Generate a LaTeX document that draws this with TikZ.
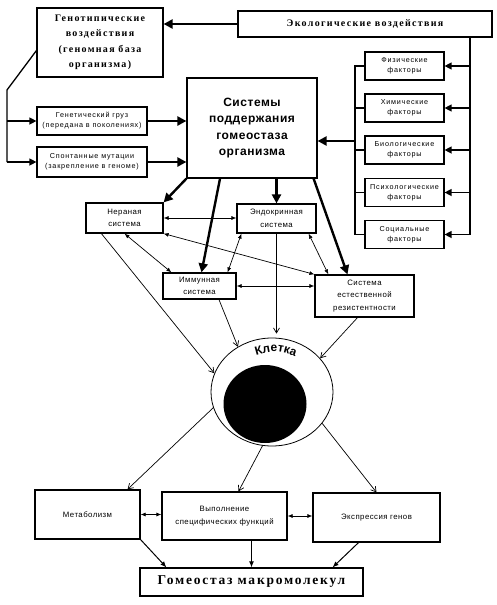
\documentclass[tikz,border=0pt]{standalone}
\usepackage{fontspec}
\setmainfont{Liberation Serif}
\setsansfont{Liberation Sans}
\newfontfamily\wsans[LetterSpace=6]{Liberation Sans}
\newfontfamily\tsans[LetterSpace=11]{Liberation Sans}
\newfontfamily\bsans[LetterSpace=4.5]{Liberation Sans}
\newfontfamily\wserif[LetterSpace=13]{Liberation Serif}
\newfontfamily\csans[LetterSpace=6]{Liberation Sans}
\usepackage{tikz}
\usetikzlibrary{arrows.meta,shapes.geometric,decorations.text}

\begin{document}
\begin{tikzpicture}[x=1pt, y=-1pt,
		box_style/.style={draw=black, line width=1.2pt, fill=white, align=center, inner sep=1pt},
		tiny_text/.style={font=\tsans\fontsize{7.2}{10}\selectfont},
		small_text/.style={font=\wsans\fontsize{7.8}{12.5}\selectfont},
		title_text/.style={font=\wserif\bfseries\fontsize{10}{15.5}\selectfont},
		thick_edge/.style={draw=black, line width=2.4pt, -{Triangle[length=9pt,width=9pt]}},
		mid_edge/.style={draw=black, line width=1.3pt, -{Triangle[length=7pt,width=7pt]}},
		plain_edge/.style={draw=black, line width=1.3pt},
		dbl_edge/.style={draw=black, line width=0.7pt, {Latex[length=5pt,width=4pt]}-{Latex[length=5pt,width=4pt]}},
		thin_edge/.style={draw=black, line width=0.7pt, -{Straight Barb[length=5pt,width=6pt]}},
		low_edge/.style={draw=black, line width=1pt, -{Latex[length=6pt,width=5pt]}}]

		\useasboundingbox (0,0) rectangle (496,605);

		% top row
		\node[box_style, title_text, minimum width=126pt, minimum height=69pt] (geno) at (100,42.5)
			{Генотипические\\воздействия\\(геномная база\\организма)};
		\node[box_style, title_text, minimum width=254pt, minimum height=26pt] (eco) at (365,24)
			{Экологические воздействия};

		% left column
		\node[box_style, tiny_text, minimum width=110pt, minimum height=28pt] (load) at (92,121)
			{Генетический груз\\(передана в поколениях)};
		\node[box_style, tiny_text, minimum width=110pt, minimum height=30pt] (mut) at (92,162)
			{Спонтанные мутации\\(закрепление в геноме)};

		% centre
		\node[box_style, font=\bsans\bfseries\fontsize{12}{16.5}\selectfont, minimum width=130pt, minimum height=100pt] (sys) at (252,128)
			{Системы\\поддержания\\гомеостаза\\организма};

		% factors
		\node[box_style, tiny_text, minimum width=79pt, minimum height=28pt] (f1) at (404.5,66) {Физические\\факторы};
		\node[box_style, tiny_text, minimum width=79pt, minimum height=28pt] (f2) at (404.5,108) {Химические\\факторы};
		\node[box_style, tiny_text, minimum width=79pt, minimum height=28pt] (f3) at (404.5,150) {Биологические\\факторы};
		\node[box_style, tiny_text, minimum width=79pt, minimum height=28pt] (f4) at (404.5,192.5) {Психологические\\факторы};
		\node[box_style, tiny_text, minimum width=79pt, minimum height=28pt] (f5) at (404.5,234.5) {Социальные\\факторы};

		% body systems
		\node[box_style, small_text, minimum width=77pt, minimum height=30pt] (nerv) at (124.5,218) {Нераная\\система};
		\node[box_style, small_text, minimum width=79pt, minimum height=29pt] (endo) at (276.5,218.5) {Эндокринная\\система};
		\node[box_style, small_text, minimum width=73pt, minimum height=26pt] (imm) at (199.5,286) {Иммунная\\система};
		\node[box_style, small_text, minimum width=99pt, minimum height=42pt] (res) at (364.5,296)
			{Система\\естественной\\резистентности};

		% cell
		\node[ellipse, draw=black, line width=0.8pt, minimum width=122pt, minimum height=108pt] (cell) at (272,392) {};
		\node[ellipse, fill=black, minimum width=83pt, minimum height=78pt] (nucleus) at (265,404) {};
		\path[decorate, decoration={text along path, text align=center,
			text={|\csans\bfseries\fontsize{12}{12}\selectfont|Клетка}}]
			(244,359) .. controls (275,349) .. (307,361);

		% bottom row
		\node[box_style, small_text, minimum width=105pt, minimum height=49pt] (metab) at (87.5,514.5) {Метаболизм};
		\node[box_style, small_text, minimum width=125pt, minimum height=48pt] (func) at (224.5,516)
			{Выполнение\\специфических функций};
		\node[box_style, small_text, minimum width=127pt, minimum height=49pt] (expr) at (376.5,517.5) {Экспрессия генов};
		\node[box_style, font=\wserif\bfseries\fontsize{13.5}{16}\selectfont, minimum width=223pt, minimum height=28pt] (homeo) at (251.5,582)
			{Гомеостаз макромолекул};

		% genome side
		\coordinate (gk) at (7,90);
		\draw[plain_edge] ([yshift=27pt]geno.south west) -- (gk) -- (gk |- mut.west);
		\draw[mid_edge] (gk |- load.west) -- (load.west);
		\draw[mid_edge] (gk |- mut.west) -- (mut.west);
		\draw[thick_edge] (eco.west) -- (eco.west -| geno.east);
		\draw[thick_edge] (load.east) -- (load.east -| sys.west);
		\draw[thick_edge] (mut.east) -- (mut.east -| sys.west);

		% ecology side
		\coordinate (er) at (470,37);
		\coordinate (fl) at (355,141);
		\draw[plain_edge] (er) -- (er |- f5.east);
		\foreach \f in {f1,f2,f3,f4,f5}
			\draw[mid_edge] (er |- \f.east) -- (\f.east);
		\draw[plain_edge] (f1.west) -| (fl) |- (f5.west);
		\foreach \f in {f2,f3,f4}
			\draw[plain_edge] (\f.west) -- (\f.west -| fl);
		\draw[thick_edge] (fl) -- (fl -| sys.east);

		% from the systems box
		\draw[thick_edge] (sys.south west) -- (nerv.north east);
		\draw[thick_edge] ([xshift=-32pt]sys.south) -- ([xshift=2pt]imm.north);
		\draw[thick_edge] (sys.south -| endo.north) -- (endo.north);
		\draw[thick_edge] ([xshift=-4pt]sys.south east) -- ([xshift=-17pt]res.north);

		% between systems
		\draw[dbl_edge] (nerv.east) -- (nerv.east -| endo.west);
		\draw[dbl_edge] (nerv.south) -- ([xshift=9pt]imm.north west);
		\draw[dbl_edge] (nerv.south east) -- (res.north west);
		\draw[dbl_edge] ([xshift=5pt]endo.south west) -- ([xshift=-9pt]imm.north east);
		\draw[dbl_edge] ([xshift=-8pt]endo.south east) -- ([xshift=14pt]res.north west);
		\draw[dbl_edge] (imm.east) -- (imm.east -| res.west);

		% into the cell
		\draw[thin_edge] ([xshift=16pt]nerv.south west) -- (cell.162);
		\draw[thin_edge] ([xshift=19.5pt]imm.south) -- (cell.127);
		\draw[thin_edge] (endo.south) -- ([yshift=4pt]endo.south |- cell.north);
		\draw[thin_edge] ([xshift=-7pt]res.south) -- (cell.35);

		% out of the cell
		\draw[thin_edge] (cell.-165) -- ([xshift=40pt]metab.north);
		\draw[thin_edge] (cell.-100) -- ([xshift=14pt]func.north);
		\draw[thin_edge] (cell.-32) -- (expr.north);
		\draw[dbl_edge] (metab.east) -- (metab.east -| func.west);
		\draw[dbl_edge] (func.east) -- (func.east -| expr.west);

		% to homeostasis
		\draw[low_edge] (metab.south east) -- ([xshift=27pt]homeo.north west);
		\draw[low_edge] (homeo.north |- func.south) -- (homeo.north);
		\draw[low_edge] ([xshift=-18pt]expr.south) -- ([xshift=-31pt]homeo.north east);

\end{tikzpicture}
\end{document}
